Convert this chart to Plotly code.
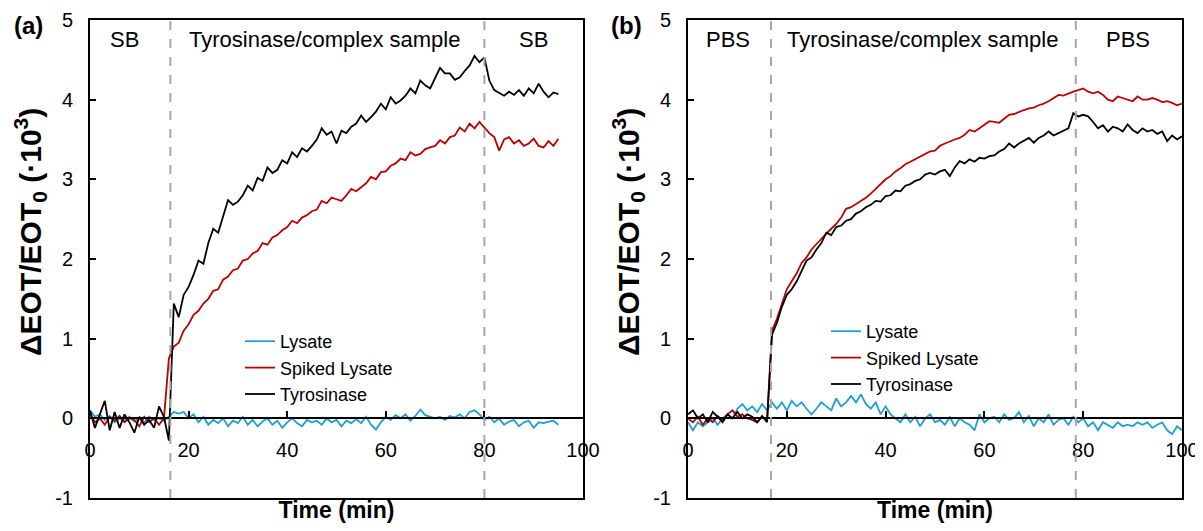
import plotly.graph_objects as go

# ---------------- data ----------------
time_a = list(range(0, 96))
lysate_a = [0.1, 0.02, 0.05, -0.02, 0.03, -0.05, 0.0, -0.03, 0.02, -0.04, 0.0, -0.05, 0.02, -0.02, 0.0, -0.03,
            0.02, 0.08, 0.06, 0.08, 0.0, 0.05, -0.05, 0.02, -0.08, -0.02, -0.06, 0.0, -0.1, -0.03, -0.06, 0.02,
            -0.08, -0.02, -0.1, -0.04, 0.0, -0.08, -0.03, -0.12, -0.05, 0.0, -0.06, -0.1, -0.02, -0.05, -0.03, -0.08,
            0.0, -0.05, -0.02, -0.1, -0.03, -0.06, -0.01, -0.06, 0.02, -0.08, -0.14, -0.05, 0.02, -0.02, 0.04, 0.0,
            0.05, -0.03, 0.03, 0.11, 0.04, 0.02, 0.0, 0.02, -0.02, 0.03, 0.01, 0.05, 0.0, 0.08, 0.1, 0.05,
            -0.02, 0.02, -0.05, 0.0, -0.08, -0.04, -0.02, -0.1, -0.05, -0.03, -0.12, -0.05, -0.06, -0.04, -0.03, -0.08]
spiked_a = [0.05, -0.05, 0.0, -0.08, 0.02, -0.03, 0.03, -0.05, 0.0, -0.02, -0.1, 0.02, -0.05, 0.0, -0.08, 0.0,
            0.75, 0.9, 0.95, 1.1, 1.18, 1.3, 1.35, 1.44, 1.5, 1.6, 1.62, 1.74, 1.78, 1.86, 1.88, 1.98,
            2.0, 2.07, 2.1, 2.2, 2.18, 2.27, 2.3, 2.36, 2.4, 2.48, 2.45, 2.52, 2.55, 2.6, 2.62, 2.73,
            2.7, 2.77, 2.75, 2.73, 2.8, 2.88, 2.85, 2.9, 2.95, 3.03, 3.0, 3.09, 3.1, 3.17, 3.2, 3.26,
            3.24, 3.34, 3.3, 3.32, 3.38, 3.4, 3.42, 3.49, 3.45, 3.53, 3.55, 3.65, 3.6, 3.7, 3.64, 3.72,
            3.65, 3.58, 3.53, 3.36, 3.5, 3.53, 3.45, 3.49, 3.42, 3.45, 3.51, 3.42, 3.4, 3.48, 3.42, 3.51]
tyrosinase_a = [0.1, -0.12, 0.05, 0.22, -0.15, 0.08, -0.12, 0.05, -0.05, -0.18, 0.02, -0.08, -0.02, -0.12, 0.15, 0.02,
                -0.28, 1.44, 1.27, 1.55, 1.65, 1.8, 1.98, 1.94, 2.2, 2.38, 2.33, 2.55, 2.74, 2.68, 2.72, 2.8,
                2.92, 2.86, 3.02, 2.98, 3.15, 3.08, 3.12, 3.24, 3.2, 3.34, 3.28, 3.39, 3.35, 3.42, 3.5, 3.64,
                3.56, 3.6, 3.45, 3.61, 3.58, 3.66, 3.7, 3.8, 3.72, 3.78, 3.85, 3.95, 3.88, 4.03, 3.95, 3.99,
                4.05, 4.14, 4.08, 4.24, 4.18, 4.14, 4.28, 4.4, 4.33, 4.33, 4.25, 4.28, 4.36, 4.43, 4.55, 4.47,
                4.53, 4.24, 4.12, 4.08, 4.05, 4.1, 4.06, 4.12, 4.05, 4.14, 4.08, 4.2, 4.1, 4.03, 4.09, 4.07]

time_b = list(range(0, 101))
lysate_b = [-0.05, -0.15, -0.05, -0.1, -0.05, 0.0, -0.08, 0.0, 0.05, 0.0, 0.12, 0.18, 0.1, 0.15, 0.08, 0.18,
            0.1, 0.2, 0.12, 0.2, 0.1, 0.22, 0.15, 0.2, 0.12, 0.05, 0.12, 0.2, 0.15, 0.1, 0.25, 0.15,
            0.2, 0.28, 0.2, 0.3, 0.18, 0.12, 0.2, 0.05, 0.15, 0.05, 0.0, -0.05, 0.05, -0.05, 0.02, -0.1,
            0.0, 0.05, -0.05, -0.02, -0.08, 0.02, -0.1, 0.0, -0.05, -0.08, -0.15, 0.05, -0.05, 0.0, 0.02, -0.05,
            0.05, -0.02, 0.0, 0.08, -0.05, 0.03, -0.1, 0.0, -0.05, 0.05, -0.08, -0.02, 0.0, -0.08, 0.02, -0.05,
            0.0, -0.1, -0.05, -0.15, -0.05, -0.08, -0.12, -0.05, -0.1, -0.08, -0.1, -0.05, -0.08, -0.05, -0.12, -0.08,
            -0.05, -0.15, -0.2, -0.1, -0.15]
spiked_b = [0.0, -0.05, 0.02, -0.08, 0.0, -0.05, 0.03, -0.02, 0.05, 0.1, 0.02, 0.05, 0.0, -0.02, -0.05, 0.02,
            -0.03, 1.1, 1.25, 1.45, 1.62, 1.72, 1.82, 1.95, 2.02, 2.12, 2.19, 2.26, 2.32, 2.38, 2.44, 2.52,
            2.63, 2.65, 2.69, 2.72, 2.77, 2.82, 2.88, 2.93, 3.0, 3.04, 3.1, 3.14, 3.19, 3.22, 3.25, 3.28,
            3.32, 3.35, 3.36, 3.42, 3.45, 3.48, 3.5, 3.52, 3.56, 3.62, 3.6, 3.64, 3.68, 3.73, 3.72, 3.71,
            3.76, 3.81, 3.82, 3.85, 3.87, 3.89, 3.9, 3.93, 3.95, 3.98, 4.02, 4.06, 4.05, 4.08, 4.1, 4.12,
            4.14, 4.1, 4.08, 4.1, 4.06, 4.0, 3.98, 4.04, 4.02, 4.0, 3.98, 4.04, 4.0, 4.0, 4.02, 4.0,
            3.97, 3.98, 3.96, 3.93, 3.95]
tyrosinase_b = [0.05, 0.1, 0.0, 0.05, -0.05, 0.08, 0.02, -0.05, 0.05, 0.0, 0.08, 0.0, 0.05, 0.02, -0.05, 0.03,
                -0.05, 1.05, 1.2, 1.4, 1.55, 1.62, 1.72, 1.85, 1.98, 2.02, 2.12, 2.2, 2.33, 2.3, 2.4, 2.42,
                2.48, 2.5, 2.57, 2.6, 2.65, 2.68, 2.73, 2.72, 2.79, 2.8, 2.86, 2.85, 2.92, 2.94, 2.98, 3.0,
                3.06, 3.08, 3.06, 3.1, 3.12, 3.04, 3.15, 3.23, 3.2, 3.25, 3.22, 3.27, 3.26, 3.29, 3.3, 3.35,
                3.38, 3.45, 3.4, 3.45, 3.48, 3.52, 3.46, 3.52, 3.55, 3.6, 3.55, 3.58, 3.62, 3.64, 3.83, 3.79,
                3.81, 3.79, 3.72, 3.64, 3.68, 3.6, 3.66, 3.64, 3.6, 3.69, 3.62, 3.58, 3.64, 3.6, 3.62, 3.57,
                3.6, 3.48, 3.55, 3.5, 3.54]

series_names = ["Lysate", "Spiked Lysate", "Tyrosinase"]
series_colors = ["#1e9fd4", "#c00000", "#000000"]
x_ticks = [0, 20, 40, 60, 80, 100]
y_ticks = [-1, 0, 1, 2, 3, 4, 5]
y_ticktext = ["-1", "0", "1", "2", "3", "4", "5"]
boundaries_a = [16.3, 80]
boundaries_b = [16.8, 78.5]
phase_labels_a = [("SB", 7), ("Tyrosinase/complex sample", 47.5), ("SB", 90)]
phase_labels_b = [("PBS", 8), ("Tyrosinase/complex sample", 47.4), ("PBS", 89)]
y_title = "<b>ΔEOT/EOT<sub>0</sub> (·10<sup>3</sup>)</b>"

# ---------------- figure ----------------
FONT = "Arial, 'Liberation Sans', sans-serif"
# page has an 8px body margin: figure is drawn at (8, 8)
W, H = 1195, 515
OFF = 8
def px(v):
    return (v - OFF) / W
def py(v):
    return 1 - (v - OFF) / H

dom_y = [py(498), py(20)]
dom_xa = [px(90), px(583)]
dom_xb = [px(688), px(1182)]
zero_pos = dom_y[0] + (dom_y[1] - dom_y[0]) / 6.0

fig = go.Figure()

for xa, ya, leg, t, ys in [
    ("x", "y", "legend", time_a, [lysate_a, spiked_a, tyrosinase_a]),
    ("x2", "y2", "legend2", time_b, [lysate_b, spiked_b, tyrosinase_b]),
]:
    for name, col, vals in zip(series_names, series_colors, ys):
        fig.add_trace(go.Scatter(x=t, y=vals, mode="lines", name=name,
                                 line=dict(color=col, width=1.8),
                                 xaxis=xa, yaxis=ya, legend=leg))

# dummy traces so the zero-line tick axes are drawn
fig.add_trace(go.Scatter(x=[None], y=[None], xaxis="x3", yaxis="y", showlegend=False, hoverinfo="skip"))
fig.add_trace(go.Scatter(x=[None], y=[None], xaxis="x4", yaxis="y2", showlegend=False, hoverinfo="skip"))

frame_x = dict(range=[0, 100], showline=True, linecolor="black", linewidth=2, mirror=True,
               ticks="", showticklabels=False, showgrid=False, zeroline=False, automargin=False,
               title=dict(text="<b>Time (min)</b>", font=dict(size=23, family=FONT, color="black"), standoff=7))
frame_y = dict(range=[-1, 5], tickvals=y_ticks, ticktext=y_ticktext, showline=True, linecolor="black",
               linewidth=2, mirror=True,
               ticks="inside", ticklen=6, tickwidth=2, tickcolor="black", showgrid=False, zeroline=False,
               tickfont=dict(size=20, family=FONT, color="black"), ticklabelstandoff=11, automargin=False,
               domain=dom_y)
zero_x = dict(range=[0, 100], tickvals=x_ticks, anchor="free", position=zero_pos, showline=True,
              linecolor="black", linewidth=2, ticks="inside", ticklen=6, tickwidth=2, tickcolor="black",
              showgrid=False, zeroline=False, tickfont=dict(size=20, family=FONT, color="black"),
              ticklabelstandoff=14, automargin=False, ticklabeloverflow="allow")

fig.update_layout(
    width=W, height=H, margin=dict(l=0, r=0, t=0, b=0),
    paper_bgcolor="white", plot_bgcolor="white",
    font=dict(family=FONT, color="black"),
    xaxis=dict(frame_x, domain=dom_xa, anchor="y"),
    yaxis=dict(frame_y, anchor="x"),
    xaxis2=dict(frame_x, domain=dom_xb, anchor="y2"),
    yaxis2=dict(frame_y, anchor="x2"),
    xaxis3=dict(zero_x, overlaying="x", domain=dom_xa),
    xaxis4=dict(zero_x, overlaying="x2", domain=dom_xb),
    legend=dict(x=px(240), y=py(323), xanchor="left", yanchor="top", bgcolor="rgba(0,0,0,0)",
                font=dict(size=18, family=FONT, color="black"), tracegroupgap=0, itemwidth=30),
    legend2=dict(x=px(826), y=py(313), xanchor="left", yanchor="top", bgcolor="rgba(0,0,0,0)",
                 font=dict(size=18, family=FONT, color="black"), tracegroupgap=0, itemwidth=30),
    showlegend=True,
)

shapes = []
for xr, yr, bnds in [("x", "y domain", boundaries_a), ("x2", "y2 domain", boundaries_b)]:
    for b in bnds:
        shapes.append(dict(type="line", xref=xr, yref=yr, x0=b, x1=b, y0=0, y1=1,
                           line=dict(color="#a6a6a6", width=2, dash="dash")))
fig.update_layout(shapes=shapes)

annotations = []
for xr, yr, labels in [("x", "y", phase_labels_a), ("x2", "y2", phase_labels_b)]:
    for txt, xp in labels:
        annotations.append(dict(text=txt, x=xp, y=4.75, xref=xr, yref=yr, showarrow=False,
                                font=dict(size=22, family=FONT, color="black")))
for lab, cx in [("<b>(a)</b>", 28), ("<b>(b)</b>", 626)]:
    annotations.append(dict(text=lab, x=px(cx), y=py(25), xref="paper", yref="paper",
                            xanchor="center", yanchor="middle", showarrow=False,
                            font=dict(size=24, family=FONT, color="black")))
# y-axis titles
for cx in [30, 628]:
    annotations.append(dict(text=y_title, x=px(cx), y=py(232), xref="paper", yref="paper",
                            xanchor="center", yanchor="middle", textangle=-90, showarrow=False,
                            font=dict(size=30, family=FONT, color="black")))
fig.update_layout(annotations=annotations)

fig.write_html("out.html")
